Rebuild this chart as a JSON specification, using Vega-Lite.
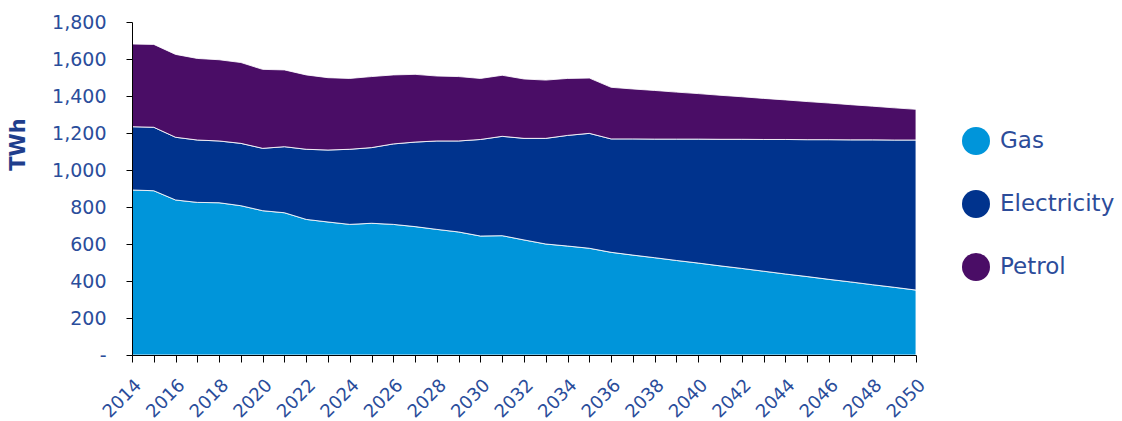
{
  "$schema": "https://vega.github.io/schema/vega-lite/v6.json",
  "autosize": "none",
  "width": 784,
  "height": 333,
  "padding": {"left": 132, "top": 22, "right": 206, "bottom": 66},
  "background": "white",
  "config": {
    "view": {"stroke": null},
    "font": "DejaVu Sans"
  },
  "data": {
    "values": [
      {"year": 2014, "source": "Gas", "twh": 892}, {"year": 2014, "source": "Electricity", "twh": 342}, {"year": 2014, "source": "Petrol", "twh": 447},
      {"year": 2015, "source": "Gas", "twh": 888}, {"year": 2015, "source": "Electricity", "twh": 343}, {"year": 2015, "source": "Petrol", "twh": 448},
      {"year": 2016, "source": "Gas", "twh": 838}, {"year": 2016, "source": "Electricity", "twh": 339}, {"year": 2016, "source": "Petrol", "twh": 448},
      {"year": 2017, "source": "Gas", "twh": 825}, {"year": 2017, "source": "Electricity", "twh": 337}, {"year": 2017, "source": "Petrol", "twh": 441},
      {"year": 2018, "source": "Gas", "twh": 823}, {"year": 2018, "source": "Electricity", "twh": 334}, {"year": 2018, "source": "Petrol", "twh": 439},
      {"year": 2019, "source": "Gas", "twh": 807}, {"year": 2019, "source": "Electricity", "twh": 337}, {"year": 2019, "source": "Petrol", "twh": 437},
      {"year": 2020, "source": "Gas", "twh": 780}, {"year": 2020, "source": "Electricity", "twh": 337}, {"year": 2020, "source": "Petrol", "twh": 427},
      {"year": 2021, "source": "Gas", "twh": 769}, {"year": 2021, "source": "Electricity", "twh": 357}, {"year": 2021, "source": "Petrol", "twh": 415},
      {"year": 2022, "source": "Gas", "twh": 733}, {"year": 2022, "source": "Electricity", "twh": 379}, {"year": 2022, "source": "Petrol", "twh": 402},
      {"year": 2023, "source": "Gas", "twh": 719}, {"year": 2023, "source": "Electricity", "twh": 389}, {"year": 2023, "source": "Petrol", "twh": 391},
      {"year": 2024, "source": "Gas", "twh": 706}, {"year": 2024, "source": "Electricity", "twh": 406}, {"year": 2024, "source": "Petrol", "twh": 383},
      {"year": 2025, "source": "Gas", "twh": 712}, {"year": 2025, "source": "Electricity", "twh": 409}, {"year": 2025, "source": "Petrol", "twh": 384},
      {"year": 2026, "source": "Gas", "twh": 706}, {"year": 2026, "source": "Electricity", "twh": 435}, {"year": 2026, "source": "Petrol", "twh": 373},
      {"year": 2027, "source": "Gas", "twh": 694}, {"year": 2027, "source": "Electricity", "twh": 457}, {"year": 2027, "source": "Petrol", "twh": 366},
      {"year": 2028, "source": "Gas", "twh": 679}, {"year": 2028, "source": "Electricity", "twh": 478}, {"year": 2028, "source": "Petrol", "twh": 351},
      {"year": 2029, "source": "Gas", "twh": 665}, {"year": 2029, "source": "Electricity", "twh": 492}, {"year": 2029, "source": "Petrol", "twh": 348},
      {"year": 2030, "source": "Gas", "twh": 643}, {"year": 2030, "source": "Electricity", "twh": 522}, {"year": 2030, "source": "Petrol", "twh": 330},
      {"year": 2031, "source": "Gas", "twh": 645}, {"year": 2031, "source": "Electricity", "twh": 537}, {"year": 2031, "source": "Petrol", "twh": 330},
      {"year": 2032, "source": "Gas", "twh": 622}, {"year": 2032, "source": "Electricity", "twh": 549}, {"year": 2032, "source": "Petrol", "twh": 321},
      {"year": 2033, "source": "Gas", "twh": 600}, {"year": 2033, "source": "Electricity", "twh": 571}, {"year": 2033, "source": "Petrol", "twh": 315},
      {"year": 2034, "source": "Gas", "twh": 589}, {"year": 2034, "source": "Electricity", "twh": 598}, {"year": 2034, "source": "Petrol", "twh": 308},
      {"year": 2035, "source": "Gas", "twh": 577}, {"year": 2035, "source": "Electricity", "twh": 621}, {"year": 2035, "source": "Petrol", "twh": 299},
      {"year": 2036, "source": "Gas", "twh": 555}, {"year": 2036, "source": "Electricity", "twh": 613}, {"year": 2036, "source": "Petrol", "twh": 279},
      {"year": 2037, "source": "Gas", "twh": 540}, {"year": 2037, "source": "Electricity", "twh": 628}, {"year": 2037, "source": "Petrol", "twh": 270},
      {"year": 2038, "source": "Gas", "twh": 526}, {"year": 2038, "source": "Electricity", "twh": 641}, {"year": 2038, "source": "Petrol", "twh": 263},
      {"year": 2039, "source": "Gas", "twh": 511}, {"year": 2039, "source": "Electricity", "twh": 656}, {"year": 2039, "source": "Petrol", "twh": 254},
      {"year": 2040, "source": "Gas", "twh": 497}, {"year": 2040, "source": "Electricity", "twh": 670}, {"year": 2040, "source": "Petrol", "twh": 246},
      {"year": 2041, "source": "Gas", "twh": 482}, {"year": 2041, "source": "Electricity", "twh": 684}, {"year": 2041, "source": "Petrol", "twh": 238},
      {"year": 2042, "source": "Gas", "twh": 468}, {"year": 2042, "source": "Electricity", "twh": 698}, {"year": 2042, "source": "Petrol", "twh": 230},
      {"year": 2043, "source": "Gas", "twh": 453}, {"year": 2043, "source": "Electricity", "twh": 712}, {"year": 2043, "source": "Petrol", "twh": 222},
      {"year": 2044, "source": "Gas", "twh": 438}, {"year": 2044, "source": "Electricity", "twh": 727}, {"year": 2044, "source": "Petrol", "twh": 214},
      {"year": 2045, "source": "Gas", "twh": 424}, {"year": 2045, "source": "Electricity", "twh": 740}, {"year": 2045, "source": "Petrol", "twh": 206},
      {"year": 2046, "source": "Gas", "twh": 409}, {"year": 2046, "source": "Electricity", "twh": 755}, {"year": 2046, "source": "Petrol", "twh": 198},
      {"year": 2047, "source": "Gas", "twh": 395}, {"year": 2047, "source": "Electricity", "twh": 768}, {"year": 2047, "source": "Petrol", "twh": 190},
      {"year": 2048, "source": "Gas", "twh": 380}, {"year": 2048, "source": "Electricity", "twh": 783}, {"year": 2048, "source": "Petrol", "twh": 182},
      {"year": 2049, "source": "Gas", "twh": 366}, {"year": 2049, "source": "Electricity", "twh": 796}, {"year": 2049, "source": "Petrol", "twh": 174},
      {"year": 2050, "source": "Gas", "twh": 351}, {"year": 2050, "source": "Electricity", "twh": 811}, {"year": 2050, "source": "Petrol", "twh": 166}
    ]
  },
  "transform": [
    {"calculate": "indexof(['Gas', 'Electricity', 'Petrol'], datum.source)", "as": "stackOrder"}
  ],
  "mark": {"type": "area", "stroke": "white", "strokeWidth": 1, "strokeOpacity": 0.85},
  "encoding": {
    "x": {
      "field": "year",
      "type": "quantitative",
      "scale": {"domain": [2014, 2050], "nice": false, "zero": false},
      "axis": {
        "title": null,
        "zindex": 1,
        "grid": false,
        "values": [2014, 2015, 2016, 2017, 2018, 2019, 2020, 2021, 2022, 2023, 2024, 2025, 2026, 2027, 2028, 2029, 2030, 2031, 2032, 2033, 2034, 2035, 2036, 2037, 2038, 2039, 2040, 2041, 2042, 2043, 2044, 2045, 2046, 2047, 2048, 2049, 2050],
        "labelExpr": "datum.value % 2 == 0 ? format(datum.value, 'd') : ''",
        "labelAngle": -45,
        "labelFontSize": 18,
        "labelColor": "#2A4D9B",
        "labelOverlap": false,
        "labelPadding": 14,
        "labelDx": -16,
        "labelDy": -4,
        "domainColor": "#000000",
        "tickColor": "#000000",
        "tickSize": 7
      }
    },
    "y": {
      "field": "twh",
      "type": "quantitative",
      "stack": "zero",
      "scale": {"domain": [0, 1800], "nice": false},
      "axis": {
        "title": "TWh",
        "titleFont": "DejaVu Sans",
        "titleFontWeight": "bold",
        "titleFontSize": 21,
        "titleColor": "#1F3E8C",
        "titleAngle": -90,
        "titleX": -114,
        "titleY": 122,
        "titleAlign": "center",
        "titleBaseline": "middle",
        "zindex": 1,
        "grid": false,
        "values": [0, 200, 400, 600, 800, 1000, 1200, 1400, 1600, 1800],
        "labelExpr": "datum.value == 0 ? '-' : format(datum.value, ',')",
        "labelFontSize": 19,
        "labelColor": "#2A4D9B",
        "labelPadding": 20,
        "domainColor": "#000000",
        "tickColor": "#000000",
        "tickSize": 6
      }
    },
    "order": {"field": "stackOrder", "type": "quantitative", "sort": "ascending"},
    "color": {
      "field": "source",
      "type": "nominal",
      "sort": ["Gas", "Electricity", "Petrol"],
      "scale": {
        "domain": ["Gas", "Electricity", "Petrol"],
        "range": ["#0095DA", "#00338D", "#4A0D66"]
      },
      "legend": {
        "title": null,
        "orient": "none",
        "legendX": 830,
        "legendY": 105,
        "symbolType": "circle",
        "symbolSize": 784,
        "symbolStrokeWidth": 0,
        "labelFontSize": 23,
        "labelColor": "#2C4C9A",
        "labelOffset": 10,
        "rowPadding": 35,
        "labelLimit": 300,
        "encode": {
          "symbols": {
            "update": {
              "fill": {"signal": "datum.value === 'Petrol' ? '#6B1F7B' : scale('color', datum.value)"},
              "opacity": {"value": 1}
            }
          }
        }
      }
    }
  }
}
